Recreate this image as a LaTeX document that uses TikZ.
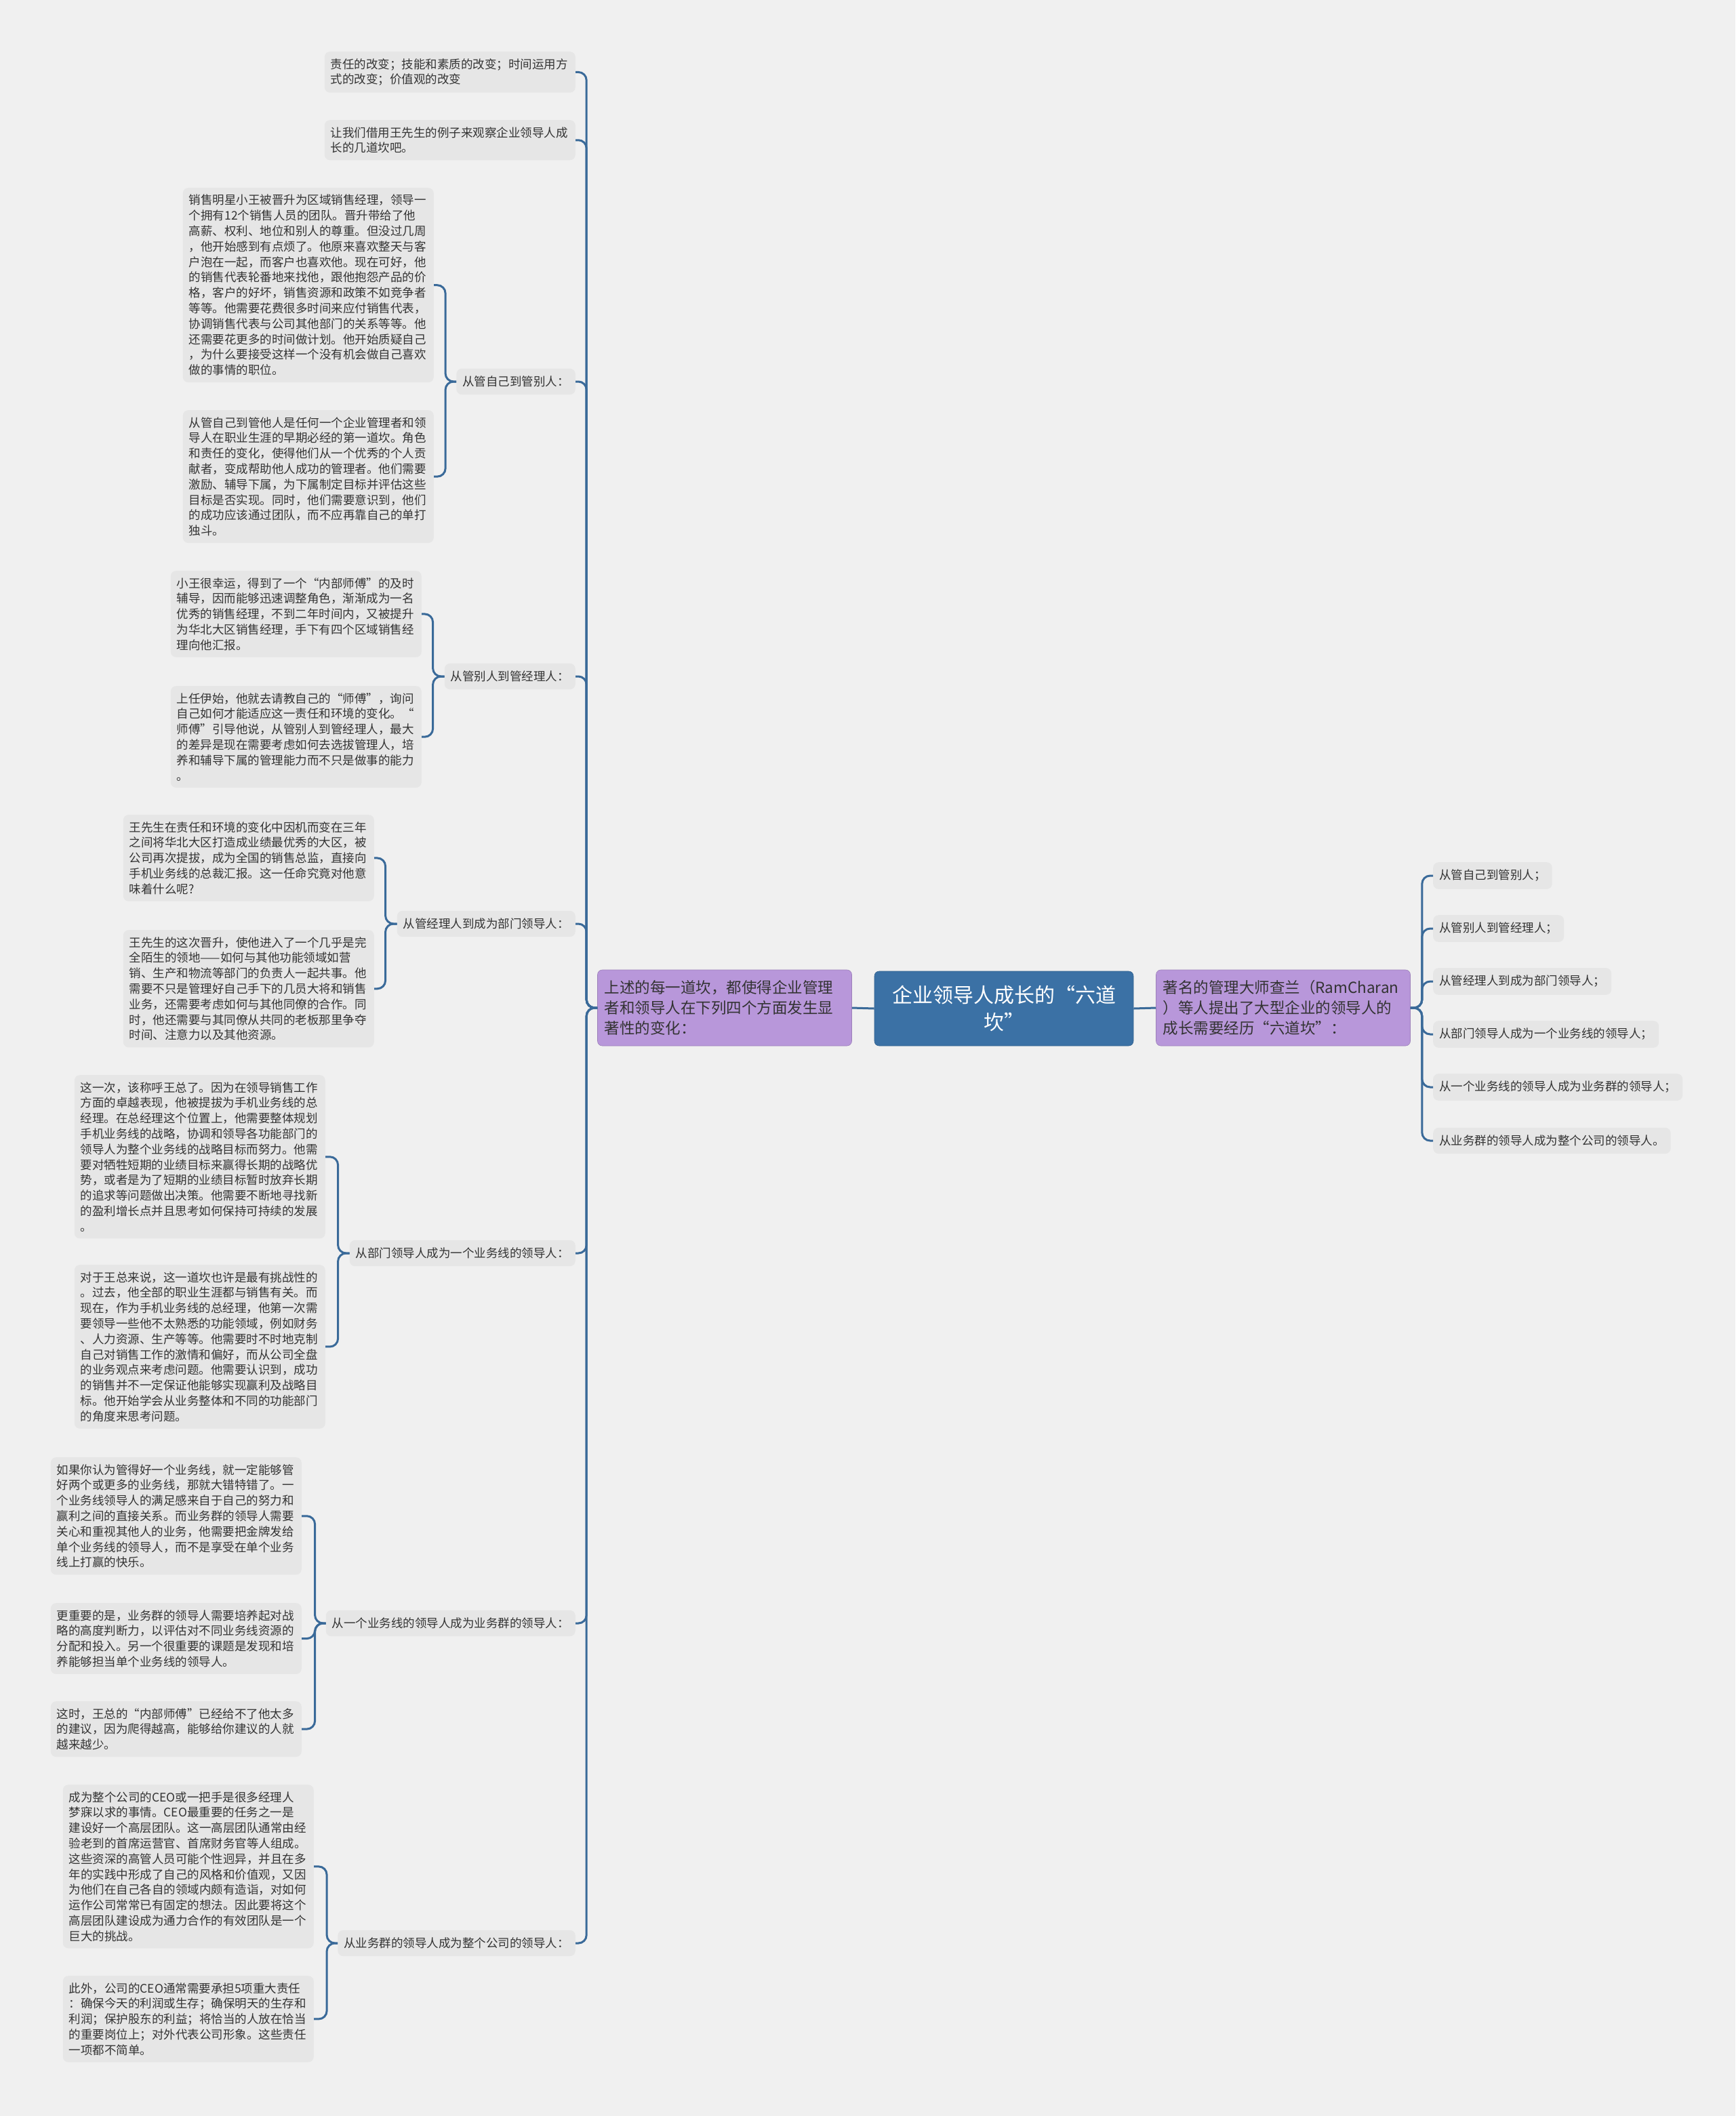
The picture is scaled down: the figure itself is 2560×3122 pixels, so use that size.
\documentclass[tikz,border=0pt]{standalone}
\usepackage{fontspec}
\setmainfont{Noto Sans CJK SC}
\definecolor{bgc}{HTML}{F0F0F0}
\definecolor{leaffill}{HTML}{E6E6E6}
\definecolor{cline}{HTML}{3A6A99}
\definecolor{rootfill}{HTML}{3B71A5}
\definecolor{purp}{HTML}{B897DA}
\definecolor{textc}{HTML}{333333}
\begin{document}
\begin{tikzpicture}[x=1pt,y=-1pt,
  conn/.style={draw=cline, line width=3pt, rounded corners=12pt},
  leaf/.style={fill=leaffill, rounded corners=8pt, inner xsep=9pt, inner ysep=10pt, align=left, text width=352pt, font=\fontsize{17.5}{22.8}\selectfont, text=textc, anchor=north east},
  lab/.style={fill=leaffill, rounded corners=8pt, inner xsep=9pt, inner ysep=11pt, font=\fontsize{17.5}{22.8}\selectfont, text=textc},
  purpbox/.style={fill=purp, draw=purp!85!black, line width=0.6pt, rounded corners=7pt, minimum width=375pt, minimum height=112pt, inner xsep=10pt, align=left, text width=355pt, font=\fontsize{22.5}{30}\selectfont, text=textc},
  rootbox/.style={fill=rootfill, draw=rootfill!85!black, line width=0.6pt, rounded corners=7pt, minimum width=382pt, minimum height=110pt, align=center, font=\fontsize{30}{40}\selectfont, text=white}
]
\fill[bgc] (0,0) rectangle (2560,3122);

% central nodes
\node[rootbox] (root) at (1481,1488) {企业领导人成长的“六道\\坎”};
\node[purpbox] (lp) at (1069,1487) {上述的每一道坎，都使得企业管理\\者和领导人在下列四个方面发生显\\著性的变化：};
\node[purpbox] (rp) at (1893,1487) {著名的管理大师查兰（RamCharan\\）等人提出了大型企业的领导人的\\成长需要经历“六道坎”：};

\draw[conn] (root.west) -- (lp.east);
\draw[conn] (root.east) -- (rp.west);

% right leaves
\node[lab, anchor=west] (r1) at (2114,1292) {从管自己到管别人；};
\node[lab, anchor=west] (r2) at (2114,1370) {从管别人到管经理人；};
\node[lab, anchor=west] (r3) at (2114,1448) {从管经理人到成为部门领导人；};
\node[lab, anchor=west] (r4) at (2114,1526) {从部门领导人成为一个业务线的领导人；};
\node[lab, anchor=west] (r5) at (2114,1604) {从一个业务线的领导人成为业务群的领导人；};
\node[lab, anchor=west] (r6) at (2114,1683) {从业务群的领导人成为整个公司的领导人。};
\foreach \r in {r1,r2,r3,r4,r5,r6}
  \draw[conn] (rp.east) -- ++(17,0) |- (\r.west);

% left first-level
\node[leaf] (l1) at (849,76) {责任的改变；技能和素质的改变；时间运用方\\式的改变；价值观的改变};
\node[leaf] (l2) at (849,177) {让我们借用王先生的例子来观察企业领导人成\\长的几道坎吧。};
\node[lab, anchor=east] (b1) at (849,563) {从管自己到管别人：};
\node[lab, anchor=east] (b2) at (849,998) {从管别人到管经理人：};
\node[lab, anchor=east] (b3) at (849,1363) {从管经理人到成为部门领导人：};
\node[lab, anchor=east] (b4) at (849,1849) {从部门领导人成为一个业务线的领导人：};
\node[lab, anchor=east] (b5) at (849,2395) {从一个业务线的领导人成为业务群的领导人：};
\node[lab, anchor=east] (b6) at (849,2867) {从业务群的领导人成为整个公司的领导人：};
\foreach \c in {l1,l2,b1,b2,b3,b4,b5,b6}
  \draw[conn] (lp.west) -- ++(-16,0) |- (\c.east);

% leaves of b1
\node[leaf] (nA) at (640,277) {销售明星小王被晋升为区域销售经理，领导一\\个拥有12个销售人员的团队。晋升带给了他\\高薪、权利、地位和别人的尊重。但没过几周\\，他开始感到有点烦了。他原来喜欢整天与客\\户泡在一起，而客户也喜欢他。现在可好，他\\的销售代表轮番地来找他，跟他抱怨产品的价\\格，客户的好坏，销售资源和政策不如竞争者\\等等。他需要花费很多时间来应付销售代表，\\协调销售代表与公司其他部门的关系等等。他\\还需要花更多的时间做计划。他开始质疑自己\\，为什么要接受这样一个没有机会做自己喜欢\\做的事情的职位。};
\node[leaf] (nB) at (640,605) {从管自己到管他人是任何一个企业管理者和领\\导人在职业生涯的早期必经的第一道坎。角色\\和责任的变化，使得他们从一个优秀的个人贡\\献者，变成帮助他人成功的管理者。他们需要\\激励、辅导下属，为下属制定目标并评估这些\\目标是否实现。同时，他们需要意识到，他们\\的成功应该通过团队，而不应再靠自己的单打\\独斗。};
\foreach \c in {nA,nB}
  \draw[conn] (b1.west) -- ++(-16,0) |- (\c.east);

% leaves of b2
\node[leaf] (nC) at (622,842) {小王很幸运，得到了一个“内部师傅”的及时\\辅导，因而能够迅速调整角色，渐渐成为一名\\优秀的销售经理，不到二年时间内，又被提升\\为华北大区销售经理，手下有四个区域销售经\\理向他汇报。};
\node[leaf] (nD) at (622,1012) {上任伊始，他就去请教自己的“师傅”，询问\\自己如何才能适应这一责任和环境的变化。“\\师傅”引导他说，从管别人到管经理人，最大\\的差异是现在需要考虑如何去选拔管理人，培\\养和辅导下属的管理能力而不只是做事的能力\\。};
\foreach \c in {nC,nD}
  \draw[conn] (b2.west) -- ++(-17,0) |- (\c.east);

% leaves of b3
\node[leaf] (nE) at (552,1202) {王先生在责任和环境的变化中因机而变在三年\\之间将华北大区打造成业绩最优秀的大区，被\\公司再次提拔，成为全国的销售总监，直接向\\手机业务线的总裁汇报。这一任命究竟对他意\\味着什么呢?};
\node[leaf] (nF) at (552,1372) {王先生的这次晋升，使他进入了一个几乎是完\\全陌生的领地——如何与其他功能领域如营\\销、生产和物流等部门的负责人一起共事。他\\需要不只是管理好自己手下的几员大将和销售\\业务，还需要考虑如何与其他同僚的合作。同\\时，他还需要与其同僚从共同的老板那里争夺\\时间、注意力以及其他资源。};
\foreach \c in {nE,nF}
  \draw[conn] (b3.west) -- ++(-17,0) |- (\c.east);

% leaves of b4
\node[leaf] (nG) at (480,1586) {这一次，该称呼王总了。因为在领导销售工作\\方面的卓越表现，他被提拔为手机业务线的总\\经理。在总经理这个位置上，他需要整体规划\\手机业务线的战略，协调和领导各功能部门的\\领导人为整个业务线的战略目标而努力。他需\\要对牺牲短期的业绩目标来赢得长期的战略优\\势，或者是为了短期的业绩目标暂时放弃长期\\的追求等问题做出决策。他需要不断地寻找新\\的盈利增长点并且思考如何保持可持续的发展\\。};
\node[leaf] (nH) at (480,1866) {对于王总来说，这一道坎也许是最有挑战性的\\。过去，他全部的职业生涯都与销售有关。而\\现在，作为手机业务线的总经理，他第一次需\\要领导一些他不太熟悉的功能领域，例如财务\\、人力资源、生产等等。他需要时不时地克制\\自己对销售工作的激情和偏好，而从公司全盘\\的业务观点来考虑问题。他需要认识到，成功\\的销售并不一定保证他能够实现赢利及战略目\\标。他开始学会从业务整体和不同的功能部门\\的角度来思考问题。};
\foreach \c in {nG,nH}
  \draw[conn] (b4.west) -- ++(-17,0) |- (\c.east);

% leaves of b5
\node[leaf] (nI) at (445,2150) {如果你认为管得好一个业务线，就一定能够管\\好两个或更多的业务线，那就大错特错了。一\\个业务线领导人的满足感来自于自己的努力和\\赢利之间的直接关系。而业务群的领导人需要\\关心和重视其他人的业务，他需要把金牌发给\\单个业务线的领导人，而不是享受在单个业务\\线上打赢的快乐。};
\node[leaf] (nJ) at (445,2365) {更重要的是，业务群的领导人需要培养起对战\\略的高度判断力，以评估对不同业务线资源的\\分配和投入。另一个很重要的课题是发现和培\\养能够担当单个业务线的领导人。};
\node[leaf] (nK) at (445,2510) {这时，王总的“内部师傅”已经给不了他太多\\的建议，因为爬得越高，能够给你建议的人就\\越来越少。};
\foreach \c in {nI,nJ,nK}
  \draw[conn] (b5.west) -- ++(-16,0) |- (\c.east);

% leaves of b6
\node[leaf] (nL) at (463,2633) {成为整个公司的CEO或一把手是很多经理人\\梦寐以求的事情。CEO最重要的任务之一是\\建设好一个高层团队。这一高层团队通常由经\\验老到的首席运营官、首席财务官等人组成。\\这些资深的高管人员可能个性迥异，并且在多\\年的实践中形成了自己的风格和价值观，又因\\为他们在自己各自的领域内颇有造诣，对如何\\运作公司常常已有固定的想法。因此要将这个\\高层团队建设成为通力合作的有效团队是一个\\巨大的挑战。};
\node[leaf] (nM) at (463,2915) {此外，公司的CEO通常需要承担5项重大责任\\：确保今天的利润或生存；确保明天的生存和\\利润；保护股东的利益；将恰当的人放在恰当\\的重要岗位上；对外代表公司形象。这些责任\\一项都不简单。};
\foreach \c in {nL,nM}
  \draw[conn] (b6.west) -- ++(-16,0) |- (\c.east);
\end{tikzpicture}
\end{document}
